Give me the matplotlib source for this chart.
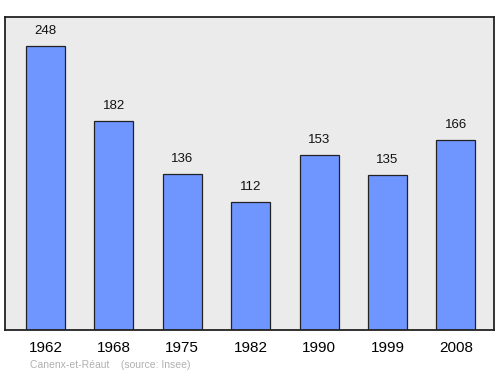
import matplotlib
matplotlib.use('Agg')
import matplotlib.pyplot as plt

years = ["1962", "1968", "1975", "1982", "1990", "1999", "2008"]
population = [248, 182, 136, 112, 153, 135, 166]

plt.rcParams['font.family'] = ['Liberation Sans', 'DejaVu Sans']

fig = plt.figure(figsize=(5.0, 3.74), dpi=100)
ax = fig.add_axes([0.01, 0.1176, 0.978, 0.837])
ax.set_facecolor('#ebebeb')

x = range(len(years))
ax.bar(x, population, width=0.57, color='#6f96ff', edgecolor='#222222', linewidth=0.9)
for i, v in enumerate(population):
	ax.text(i, v + 13, str(v), ha='center', va='center', fontsize=9.5, color='#111111')

ax.set_xlim(-0.592, 6.557)
ax.set_ylim(0, 273)
ax.set_yticks([])
ax.set_xticks(list(x))
ax.set_xticklabels(years, fontsize=11)
ax.tick_params(axis='x', length=0, pad=8)
for s in ax.spines.values():
	s.set_linewidth(1.3)
	s.set_color('#222222')

fig.text(0.06, 0.017, "Canenx-et-Réaut    (source: Insee)", fontsize=7.5, color='#b0b0b0')

fig.savefig('out.png', dpi=100)
